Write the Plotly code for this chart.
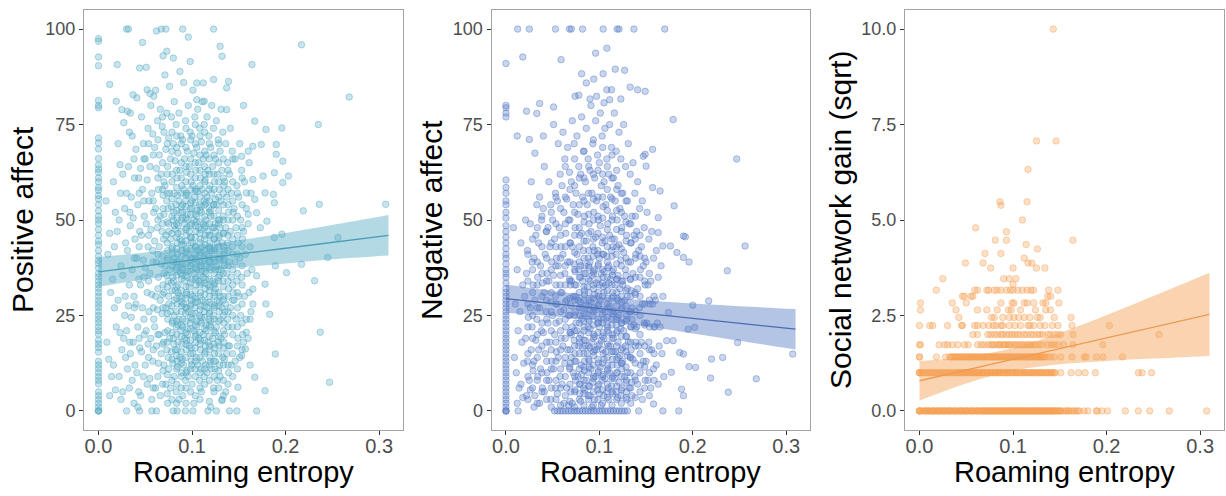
import plotly.graph_objects as go

# ---------------- tick labels ----------------
X_TICKS = [0.0, 0.1, 0.2, 0.3]
X_TICK_TEXT = ["0.0", "0.1", "0.2", "0.3"]
AFF_TICKS = [0, 25, 50, 75, 100]
AFF_TICK_TEXT = ["0", "25", "50", "75", "100"]
SOC_TICKS = [0, 2.5, 5, 7.5, 10]
SOC_TICK_TEXT = ["0.0", "2.5", "5.0", "7.5", "10.0"]

# ---------------- fitted lines + 95% bands ----------------
fit_x = [0.0, 0.05, 0.10, 0.15, 0.20, 0.25, 0.31]
pos_fit = [36.4, 38.0, 39.5, 41.1, 42.6, 44.2, 46.0]
pos_lo = [32.5, 34.5, 36.1, 37.5, 38.6, 39.7, 40.7]
pos_hi = [40.3, 41.5, 42.9, 44.7, 46.6, 48.7, 51.3]
neg_fit = [29.4, 28.1, 26.8, 25.5, 24.2, 22.9, 21.4]
neg_lo = [25.7, 24.8, 23.6, 22.1, 20.3, 18.4, 16.1]
neg_hi = [33.1, 31.4, 30.0, 28.9, 28.1, 27.4, 26.7]
soc_fit = [0.79, 1.07, 1.35, 1.63, 1.91, 2.19, 2.53]
soc_lo = [0.27, 0.72, 1.05, 1.22, 1.31, 1.37, 1.44]
soc_hi = [1.31, 1.42, 1.65, 2.04, 2.51, 3.01, 3.62]

# ---------------- Positive affect points ----------------
pos_zero_y = [97.5, 96.8, 92.7, 90.4, 81.3, 80.0, 79.4, 71.5, 70.2, 68.6, 66.1, 64.4, 63.3, 62.5, 61.0, 60.0,
              58.5, 57.8, 56.4, 55.5, 54.0, 52.4, 51.0, 50.0, 49.1, 47.5, 46.0, 44.5, 43.6, 42.0, 40.5, 39.4,
              38.6, 37.4, 36.0, 35.1, 34.0, 33.0, 32.1, 31.0, 30.0, 28.9, 28.0, 27.1, 26.0, 25.0, 24.0, 23.1,
              22.0, 21.0, 20.1, 18.5, 17.5, 16.6, 15.4, 13.0, 12.0, 11.1, 10.0, 9.0, 8.0, 7.1, 5.0, 4.0, 3.0,
              2.0, 1.0, 0.0, 0.0, 0.0]

pos_outliers = [(0.030,100),(0.032,100),(0.062,99.5),(0.067,100),(0.072,100),(0.090,100),(0.123,100),(0.096,97.9),
    (0.047,96.5),(0.073,94.2),(0.069,93),(0.080,92.4),(0.098,91.5),(0.130,95.5),(0.132,92.9),(0.164,90.7),
    (0.217,95.9),(0.268,82.2),(0.020,90.7),(0.012,85.5),(0.044,89.8),(0.052,84.1),(0.055,83.1),(0.059,82.4),
    (0.037,82.8),(0.019,81.1),(0.025,78.9),(0.034,78),(0.087,88.9),(0.105,85.9),(0.112,85.9),(0.105,81.5),
    (0.113,81.1),(0.123,86.8),(0.139,86.3),(0.137,84.6),(0.137,78.9),(0.155,80),(0.167,75.9),(0.196,74.1),
    (0.235,75),(0.179,73.7),(0.174,69.8),(0.190,69.8),(0.165,69.3),(0.160,68),(0.153,66.7),(0.190,67.2),
    (0.197,65.4),(0.188,62.4),(0.203,61.5),(0.176,61.5),(0.165,60.6),(0.197,59.8),(0.178,57.1),(0.187,56.7),
    (0.158,57.1),(0.167,55.4),(0.188,54.5),(0.236,54.1),(0.307,54.1),(0.219,52.4),(0.169,51.9),(0.160,51.5),
    (0.180,49.7),(0.173,48),(0.188,45.4),(0.196,46.3),(0.256,45.4),(0.245,40.2),(0.217,38.4),(0.189,38),
    (0.201,36.2),(0.231,34.1),(0.178,33.2),(0.169,35.4),(0.165,31.9),(0.179,28),(0.165,28),(0.183,25.3),
    (0.162,24),(0.237,20.6),(0.158,20.6),(0.189,14.9),(0.178,5.3),(0.167,8.8),(0.247,7.5),(0.169,0),
    (0.148,0),(0.144,3.1),(0.149,6.2),(0.140,0),(0.132,2.7),(0.126,0),(0.117,0),(0.101,0),(0.093,0),
    (0.084,0),(0.080,0),(0.057,0),(0.062,0),(0.044,0),(0.157,16.2),(0.153,14.5)]

pos_core = [
    (0.008,55),(0.012,46.5),(0.010,41),(0.013,31),(0.009,18),(0.011,13.5),(0.014,9),(0.012,4),
    (0.016,60),(0.018,52),(0.015,34.5),(0.017,27),(0.019,22),(0.016,12),(0.018,5.5),(0.017,43),
    (0.021,70),(0.023,64.5),(0.022,50),(0.020,47),(0.024,38),(0.021,29),(0.023,20.5),(0.025,16),(0.022,9),(0.024,3),
    (0.027,75.5),(0.026,62),(0.028,53),(0.029,44),(0.026,35.5),(0.028,25),(0.027,19),(0.029,14),(0.026,5),(0.030,0),
    (0.031,78.5),(0.033,73),(0.032,64),(0.030,57),(0.034,48.5),(0.031,42),(0.033,33),(0.032,27.5),(0.030,21),(0.034,15),(0.031,11),(0.033,6),
    (0.036,72),(0.038,66),(0.035,56),(0.037,50.5),(0.039,45),(0.036,37),(0.038,30),(0.035,24.5),(0.037,18),(0.039,12),(0.036,8),(0.038,2),
    (0.041,82),(0.040,68.5),(0.043,61),(0.042,54),(0.044,47),(0.041,40),(0.043,34.5),(0.040,28),(0.042,22),(0.044,16.5),(0.041,10),(0.043,5),(0.042,1),
    (0.046,77),(0.048,70),(0.045,63.5),(0.047,58),(0.049,51),(0.046,46),(0.048,39.5),(0.045,33),(0.047,27),(0.049,20),(0.046,15.5),(0.048,9),(0.045,4),
    (0.051,90),(0.053,74),(0.050,66),(0.052,60.5),(0.054,55),(0.051,49),(0.053,43),(0.050,37.5),(0.052,31),(0.054,26),(0.051,21),(0.053,17.5),(0.050,12),(0.052,7),
    (0.056,80),(0.058,72.5),(0.055,64),(0.057,57),(0.059,52),(0.056,47.5),(0.058,42),(0.055,36),(0.057,30.5),(0.059,24),(0.056,19),(0.058,13),(0.055,8.5),(0.057,3),
    (0.061,84),(0.063,76),(0.060,69),(0.062,63.5),(0.064,58),(0.061,53),(0.063,48),(0.060,44.5),(0.062,39),(0.064,35),(0.061,30),(0.063,26.5),(0.060,22),(0.062,17),(0.064,12.5),(0.061,6),
    (0.066,79),(0.068,74.5),(0.065,67),(0.067,62),(0.069,56.5),(0.066,51),(0.068,47),(0.065,43),(0.067,38.5),(0.069,33),(0.066,29),(0.068,25.5),(0.065,20),(0.067,15),(0.069,10.5),(0.066,4),
    (0.071,88),(0.073,78),(0.070,73),(0.072,68.5),(0.074,64),(0.071,59),(0.073,55),(0.070,51.5),(0.072,46),(0.074,42),(0.071,38),(0.073,35.5),(0.070,31),(0.072,27),(0.074,24),(0.071,20.5),(0.073,16),(0.070,12),(0.072,7),(0.074,2),
    (0.076,85),(0.078,77),(0.075,71.5),(0.077,66),(0.079,62),(0.076,57),(0.078,53.5),(0.075,49),(0.077,45),(0.079,41),(0.076,37),(0.078,33.5),(0.075,30),(0.077,26),(0.079,23),(0.076,19),(0.078,15.5),(0.075,11),(0.077,6),
    (0.081,81),(0.083,75),(0.080,70),(0.082,65.5),(0.084,61),(0.081,57),(0.083,54),(0.080,50),(0.082,47.5),(0.084,44),(0.081,40),(0.083,37),(0.080,34),(0.082,31.5),(0.084,28),(0.081,25),(0.083,22),(0.080,19),(0.082,16),(0.084,13),(0.081,9),(0.083,5),
    (0.086,78),(0.088,72),(0.085,67.5),(0.087,63),(0.089,59),(0.086,55),(0.088,52),(0.085,48.5),(0.087,45),(0.089,42),(0.086,39),(0.088,36),(0.085,33),(0.087,30),(0.089,27.5),(0.086,24),(0.088,21),(0.085,18),(0.087,14),(0.089,10),(0.086,3),
    (0.091,86),(0.093,76),(0.090,71),(0.092,66),(0.094,62.5),(0.091,58),(0.093,55),(0.090,52),(0.092,49),(0.094,46),(0.091,43.5),(0.093,40),(0.090,37),(0.092,34),(0.094,31),(0.091,28),(0.093,25.5),(0.090,22),(0.092,19),(0.094,16),(0.091,12),(0.093,8),(0.090,4),
    (0.096,80),(0.098,73),(0.095,68),(0.097,64),(0.099,60),(0.096,56.5),(0.098,53),(0.095,50),(0.097,47),(0.099,44),(0.096,41),(0.098,38),(0.095,35),(0.097,32.5),(0.099,29),(0.096,26),(0.098,23),(0.095,20),(0.097,17),(0.099,13),(0.096,9),
    (0.101,84),(0.103,77),(0.100,72),(0.102,67.5),(0.104,63),(0.101,59),(0.103,56),(0.100,53),(0.102,50),(0.104,47),(0.101,44),(0.103,41),(0.100,38.5),(0.102,36),(0.104,33),(0.101,30),(0.103,27),(0.100,24),(0.102,21),(0.104,18),(0.101,15),(0.103,11),(0.100,7),(0.102,2),
    (0.106,79),(0.108,74),(0.105,69),(0.107,65),(0.109,61),(0.106,57.5),(0.108,54),(0.105,51),(0.107,48),(0.109,45),(0.106,42),(0.108,39),(0.105,37),(0.107,34),(0.109,31),(0.106,28.5),(0.108,25),(0.105,22),(0.107,19),(0.109,16),(0.106,12),(0.108,8),
    (0.111,81),(0.113,75),(0.110,70.5),(0.112,66),(0.114,62),(0.111,58),(0.113,55),(0.110,52),(0.112,49),(0.114,46),(0.111,43),(0.113,40),(0.110,38),(0.112,35),(0.114,32),(0.111,29),(0.113,26),(0.110,23),(0.112,20),(0.114,17),(0.111,13),(0.113,9),(0.110,5),
    (0.116,77),(0.118,72),(0.115,67),(0.117,63),(0.119,59),(0.116,56),(0.118,53),(0.115,50),(0.117,47),(0.119,44),(0.116,41),(0.118,39),(0.115,36),(0.117,33),(0.119,30),(0.116,27),(0.118,24),(0.115,21),(0.117,18),(0.119,14),(0.116,10),
    (0.121,80),(0.123,74),(0.120,69),(0.122,64),(0.124,60),(0.121,57),(0.123,54),(0.120,51),(0.122,48),(0.124,45),(0.121,42),(0.123,40),(0.120,37),(0.122,34),(0.124,31),(0.121,28),(0.123,25),(0.120,22),(0.122,19),(0.124,15),(0.121,11),(0.123,6),(0.120,1),
    (0.126,76),(0.128,71),(0.125,66),(0.127,62),(0.129,58),(0.126,54),(0.128,50),(0.125,47),(0.127,44),(0.129,41),(0.126,38),(0.128,35),(0.125,32),(0.127,29),(0.129,26),(0.126,22),(0.128,18),(0.125,13),(0.127,8),
    (0.131,79),(0.133,73),(0.130,68),(0.132,63),(0.134,59),(0.131,55),(0.133,51),(0.130,48),(0.132,44),(0.134,41),(0.131,37),(0.133,34),(0.130,30),(0.132,27),(0.134,23),(0.131,19),(0.133,14),(0.130,9),(0.132,3),
    (0.136,70),(0.138,65),(0.135,60),(0.137,56),(0.139,52),(0.136,48),(0.138,44),(0.135,40),(0.137,36),(0.139,32),(0.136,28),(0.138,24),(0.135,20),(0.137,15),(0.139,10),(0.136,5),
    (0.141,74),(0.143,68),(0.140,62),(0.142,57),(0.144,52),(0.141,47),(0.143,43),(0.140,39),(0.142,35),(0.144,31),(0.141,27),(0.143,22),(0.140,17),(0.142,12),
    (0.146,66),(0.148,59),(0.145,53),(0.147,48),(0.149,44),(0.146,39),(0.148,34),(0.145,29),(0.147,24),(0.149,19),(0.146,13),
    (0.151,70),(0.153,63),(0.150,56),(0.152,50),(0.154,45),(0.151,40),(0.153,35),(0.150,30),(0.152,25),(0.154,20),(0.151,14),
    (0.156,60),(0.158,53),(0.155,47),(0.157,41),(0.159,36),(0.156,30),(0.158,24),(0.155,18),
    (0.161,65),(0.163,57),(0.160,49),(0.162,43),(0.164,37),(0.161,31),(0.163,26),(0.160,19),(0.162,12)]

pos_dense = [
    (0.0695,18),(0.069,27),(0.070,36),(0.0695,45),(0.069,53),(0.070,60),
    (0.0745,14),(0.074,21),(0.075,28),(0.0745,34),(0.074,40),(0.075,47),(0.0745,53),
    (0.0795,12.5),(0.0805,17.5),(0.079,23.5),(0.081,29),(0.0795,35),(0.080,39),(0.079,43),(0.081,48.5),(0.0805,52),
    (0.0845,11.5),(0.084,16),(0.085,22.5),(0.0835,26),(0.085,31),(0.084,37.5),(0.0845,41),(0.085,46.5),(0.084,50.5),(0.0845,56.5),
    (0.0895,13.5),(0.089,17.5),(0.090,24),(0.089,29.5),(0.0895,35.5),(0.090,38.5),(0.089,44.5),(0.0895,50.5),(0.090,54),
    (0.0945,10.5),(0.094,18.5),(0.095,21.5),(0.094,27),(0.0945,30.5),(0.095,36.5),(0.094,42.5),(0.0945,48),(0.095,51.5),(0.094,57),
    (0.0995,12),(0.099,16.5),(0.100,25.5),(0.099,28),(0.0995,34.5),(0.100,40),(0.099,45.5),(0.0995,49),(0.100,55),
    (0.1045,14),(0.104,20),(0.105,23.5),(0.104,29.5),(0.1045,35),(0.105,39.5),(0.104,43),(0.1045,49.5),(0.105,52.5),(0.104,58),
    (0.1095,11),(0.109,18.5),(0.110,24.5),(0.109,27.5),(0.1095,33.5),(0.110,36.5),(0.109,41.5),(0.1095,47.5),(0.110,53.5),
    (0.1145,12),(0.114,15.5),(0.115,22.5),(0.114,28.5),(0.1145,34.5),(0.115,38),(0.114,43.5),(0.1145,48.5),(0.115,54.5),(0.114,60.5),
    (0.1195,13),(0.119,17),(0.120,23.5),(0.119,26),(0.1195,32.5),(0.120,39),(0.119,42.5),(0.1195,46),(0.120,52.5),
    (0.1245,11),(0.124,16.5),(0.125,20.5),(0.124,27.5),(0.1245,33.5),(0.125,37),(0.124,42.5),(0.1245,49),(0.125,55.5),
    (0.1295,12),(0.129,17),(0.130,24),(0.129,28.5),(0.1295,35.5),(0.130,39.5),(0.129,45.5),(0.1295,50),
    (0.1345,13.5),(0.134,18),(0.135,26),(0.134,30),(0.1345,38),(0.135,42),(0.134,46.5)]

# third layer of the dense positive-affect cloud: one x per column, y values per column
pos_col_x = [0.0235, 0.0285, 0.0335, 0.0385, 0.0435, 0.0485, 0.0535, 0.0585, 0.0635, 0.0685, 0.0735, 0.0785,
             0.0835, 0.0885, 0.0935, 0.0985, 0.1035, 0.1085, 0.1135, 0.1185, 0.1235, 0.1285, 0.1335, 0.1385,
             0.1435, 0.1485, 0.1535]
pos_col_y = [
    [57], [30], [52, 18], [61, 40, 27], [57, 43, 19], [66, 55, 35, 24], [70, 46, 34, 14], [67, 55, 39, 27, 16, 6],
    [9, 20, 32, 41, 50, 61, 71],
    [7, 17.5, 30.5, 40.5, 49, 58, 65, 77],
    [4.5, 9.5, 18, 25.5, 32.5, 39.5, 44, 49.5, 57, 62, 70],
    [3, 8, 13.5, 20.5, 27.5, 31.5, 38, 42.5, 46.5, 51, 55.5, 60, 68, 73],
    [2, 7, 11, 14.5, 20, 23.5, 29.5, 32.5, 35.5, 39, 42.5, 45.5, 49, 52.5, 58.5, 63, 69, 72],
    [6, 9, 12.5, 15.5, 19.5, 22.5, 26, 28.5, 31.5, 34.5, 37.5, 40.5, 43.5, 47, 50, 53.5, 57, 61, 65, 70],
    [2, 6, 10, 14, 17.5, 20.5, 23.5, 27, 29.5, 32.5, 35.5, 38.5, 41.5, 44.5, 47.5, 50.5, 53.5, 56.5, 60, 64, 69, 74],
    [5, 11, 15, 18.5, 21.5, 24.5, 27.5, 30.5, 33.5, 36.5, 39.5, 42.5, 45.5, 48.5, 51.5, 54.5, 58, 62, 66, 71],
    [4, 9, 13, 16.5, 19.5, 22.5, 25.5, 28.5, 31.5, 34.5, 37.5, 40, 43, 45.5, 48.5, 51.5, 54.5, 57.5, 61, 65, 70, 75],
    [3, 6, 10, 14, 17.5, 20.5, 23.5, 26.5, 30, 33, 35.5, 38, 41, 44, 46.5, 49.5, 52.5, 56, 59, 63, 67, 72],
    [7, 11, 15, 18.5, 21.5, 24.5, 27.5, 30.5, 33.5, 36.5, 39.5, 42, 45, 48, 51, 54, 57, 60, 64, 68, 73],
    [2.5, 8, 12, 16, 19.5, 22.5, 25.5, 28.5, 31.5, 34.5, 37.5, 40.5, 43, 46, 49, 52, 55, 58, 62, 66, 70],
    [5, 9, 13, 17.5, 21, 24, 27, 30, 33, 36, 39, 42, 45, 48, 51, 54, 58, 62, 67],
    [6, 10.5, 15, 19.5, 23.5, 27.5, 31, 34, 37, 40, 43, 46, 49, 52.5, 56, 60, 65, 70],
    [4, 8, 12, 16.5, 21, 25, 29, 32.5, 36, 39.5, 43, 46.5, 50, 54, 57, 61, 66],
    [7, 12, 17, 22, 26, 30, 34, 38, 42, 46, 50, 54, 58, 63],
    [9, 15, 20, 25, 29, 33, 37, 41, 45, 50, 55, 60, 66],
    [11, 17, 22, 27, 31, 36, 41, 46, 51, 57],
    [16, 23, 28, 33, 38, 43, 48, 54, 61]]

# ---------------- Negative affect points ----------------
neg_zero_y = [91, 80, 79.4, 78, 77, 60.5, 58.5, 57, 55, 54, 52, 50.5, 48.5, 47, 45.5, 44, 42.5, 41, 40, 38.5,
              37, 36, 35, 33.5, 32, 31, 30, 29, 28, 27, 26, 25, 24, 23, 22, 21, 20, 19, 18, 17, 16, 15, 14, 13,
              12, 11, 10, 9, 8, 7, 6, 5, 4, 3, 2, 1, 0, 0, 0]

neg_zero_row_x = [0.013, 0.052, 0.055, 0.058, 0.061, 0.064, 0.067, 0.070, 0.073, 0.076, 0.079, 0.082, 0.085,
                  0.088, 0.091, 0.094, 0.097, 0.100, 0.103, 0.106, 0.109, 0.112, 0.115, 0.118, 0.121, 0.124,
                  0.127, 0.130, 0.142]

neg_outliers = [(0.0125,100),(0.025,100),(0.053,100),(0.068,100),(0.070,100),(0.082,100),(0.104,100),(0.119,100),
    (0.121,100),(0.137,100),(0.170,100),(0.096,93.7),(0.108,95),(0.018,92.7),(0.059,92),(0.081,88.3),(0.104,88.3),
    (0.117,89.5),(0.127,89.2),(0.094,86.9),(0.086,85.9),(0.133,84.8),(0.141,84.1),(0.149,83.7),(0.074,82.4),
    (0.078,82.7),(0.090,81.7),(0.097,82.4),(0.108,84.1),(0.113,84.1),(0.111,81.5),(0.123,81.7),(0.105,80.7),
    (0.051,79.6),(0.036,80.5),(0.022,78.5),(0.033,77.9),(0.012,72),(0.025,71.1),(0.040,72),(0.179,76.3),
    (0.247,66),(0.256,43.2),(0.237,36.7),(0.217,28.8),(0.200,27.7),(0.195,21.4),(0.202,21.9),(0.196,11.6),
    (0.203,11.4),(0.220,13.6),(0.232,14),(0.219,8.6),(0.238,4.9),(0.248,17.9),(0.268,8.4),(0.307,14.9),
    (0.190,45.8),(0.192,45.6),(0.183,41.5),(0.190,40.2),(0.196,39),(0.180,53.7),(0.163,46.7),(0.176,43.2),
    (0.168,43.2),(0.186,15.3),(0.190,14.9),(0.177,10.1),(0.188,5.7),(0.190,4),(0.185,0),(0.168,0),(0.158,1.8),
    (0.172,18.4),(0.179,18.4),(0.174,25.8),(0.157,58.5),(0.157,68.5),(0.150,64.1),(0.149,67.2),(0.147,66.7),
    (0.165,57.6),(0.163,50.6)]

neg_core = [
    (0.008,48),(0.012,37),(0.010,28),(0.013,21),(0.009,14),(0.011,10),(0.014,6),(0.012,2),
    (0.016,44),(0.018,33),(0.015,26),(0.017,18),(0.019,12.5),(0.016,7),(0.018,3.5),
    (0.021,50),(0.023,42),(0.022,36),(0.020,30),(0.024,24.5),(0.021,19),(0.023,13),(0.025,8),(0.022,4),
    (0.027,60),(0.026,49),(0.028,39),(0.029,33),(0.026,27),(0.028,22),(0.027,16),(0.029,10.5),(0.026,5.5),(0.030,1),
    (0.031,67.5),(0.033,54),(0.032,46),(0.030,40),(0.034,35),(0.031,29),(0.033,24),(0.032,18.5),(0.030,13),(0.034,9),(0.031,4),
    (0.036,56),(0.038,50),(0.035,44),(0.037,38),(0.039,33.5),(0.036,27),(0.038,21),(0.035,16),(0.037,11),(0.039,6),(0.036,2),
    (0.041,64),(0.040,53),(0.043,47),(0.042,41),(0.044,36),(0.041,31),(0.043,26),(0.040,20.5),(0.042,15),(0.044,10),(0.041,5),
    (0.046,60),(0.048,54),(0.045,48),(0.047,43),(0.049,39),(0.046,34),(0.048,28.5),(0.045,23),(0.047,18),(0.049,13),(0.046,8),(0.048,3),
    (0.051,75),(0.053,57),(0.050,50),(0.052,45),(0.054,40),(0.051,35.5),(0.053,30),(0.050,25),(0.052,20),(0.054,15.5),(0.051,11),(0.053,6),
    (0.056,70),(0.058,62),(0.055,55),(0.057,48),(0.059,43),(0.056,38),(0.058,33),(0.055,28),(0.057,23.5),(0.059,19),(0.056,14),(0.058,9),(0.055,4.5),
    (0.061,73),(0.063,66),(0.060,59),(0.062,52),(0.064,46.5),(0.061,41),(0.063,36),(0.060,31),(0.062,26.5),(0.064,22),(0.061,17),(0.063,12.5),(0.060,7),(0.062,2),
    (0.066,69),(0.068,62.5),(0.065,55.5),(0.067,50),(0.069,44),(0.066,39),(0.068,34.5),(0.065,29),(0.067,25),(0.069,20.5),(0.066,16),(0.068,11),(0.065,6),(0.067,1.5),
    (0.071,76),(0.073,70),(0.070,60),(0.072,54),(0.074,48),(0.071,43),(0.073,38.5),(0.070,34),(0.072,30),(0.074,26),(0.071,22),(0.073,18.5),(0.070,14),(0.072,10),(0.074,5.5),(0.071,2),
    (0.076,72),(0.078,64),(0.075,57),(0.077,51.5),(0.079,46),(0.076,41),(0.078,37),(0.075,33),(0.077,29),(0.079,25),(0.076,21),(0.078,17),(0.075,13),(0.077,9),(0.079,4.5),
    (0.081,77),(0.083,68),(0.080,62),(0.082,56),(0.084,51),(0.081,46.5),(0.083,42),(0.080,38),(0.082,34),(0.084,30.5),(0.081,27),(0.083,23.5),(0.080,20),(0.082,16.5),(0.084,13),(0.081,9.5),(0.083,6),(0.080,2.5),
    (0.086,74),(0.088,66),(0.085,60),(0.087,54),(0.089,49),(0.086,44.5),(0.088,40),(0.085,36),(0.087,32.5),(0.089,29),(0.086,25.5),(0.088,22),(0.085,18.5),(0.087,15),(0.089,11.5),(0.086,8),(0.088,4),
    (0.091,80),(0.093,70),(0.090,63),(0.092,57),(0.094,52),(0.091,47),(0.093,43),(0.090,39),(0.092,35.5),(0.094,32),(0.091,28.5),(0.093,25),(0.090,21.5),(0.092,18),(0.094,14.5),(0.091,11),(0.093,7.5),(0.090,4),(0.092,1),
    (0.096,76),(0.098,67),(0.095,61),(0.097,55),(0.099,50),(0.096,45.5),(0.098,41),(0.095,37),(0.097,33.5),(0.099,30),(0.096,26.5),(0.098,23),(0.095,19.5),(0.097,16),(0.099,12.5),(0.096,9),(0.098,5.5),
    (0.101,78),(0.103,72),(0.100,65),(0.102,59),(0.104,53.5),(0.101,48.5),(0.103,44),(0.100,40),(0.102,36),(0.104,32.5),(0.101,29),(0.103,25.5),(0.100,22),(0.102,18.5),(0.104,15),(0.101,11.5),(0.103,8),(0.100,4.5),(0.102,1.5),
    (0.106,74),(0.108,66),(0.105,60),(0.107,54),(0.109,49),(0.106,44.5),(0.108,40.5),(0.105,36.5),(0.107,33),(0.109,29.5),(0.106,26),(0.108,22.5),(0.105,19),(0.107,15.5),(0.109,12),(0.106,8.5),(0.108,5),
    (0.111,75),(0.113,69),(0.110,62),(0.112,56),(0.114,51),(0.111,46),(0.113,42),(0.110,38),(0.112,34.5),(0.114,31),(0.111,27.5),(0.113,24),(0.110,20.5),(0.112,17),(0.114,13.5),(0.111,10),(0.113,6.5),(0.110,3),
    (0.116,78),(0.118,68),(0.115,61),(0.117,55),(0.119,50),(0.116,45),(0.118,41),(0.115,37),(0.117,33),(0.119,29.5),(0.116,26),(0.118,22.5),(0.115,19),(0.117,15.5),(0.119,12),(0.116,8.5),(0.118,5),
    (0.121,73),(0.123,66),(0.120,59),(0.122,53),(0.124,48),(0.121,43.5),(0.123,39.5),(0.120,35.5),(0.122,32),(0.124,28.5),(0.121,25),(0.123,21.5),(0.120,18),(0.122,14.5),(0.124,11),(0.121,7.5),(0.123,4),
    (0.126,75),(0.128,64),(0.125,57),(0.127,51),(0.129,46),(0.126,41.5),(0.128,37),(0.125,33),(0.127,29),(0.129,25),(0.126,21),(0.128,17),(0.125,13),(0.127,9),(0.129,5),
    (0.131,70),(0.133,62),(0.130,55),(0.132,49),(0.134,44),(0.131,39),(0.133,34.5),(0.130,30),(0.132,26),(0.134,22),(0.131,18),(0.133,14),(0.130,10),(0.132,6),
    (0.136,65),(0.138,57),(0.135,51),(0.137,46),(0.139,41),(0.136,36),(0.138,31),(0.135,27),(0.137,22.5),(0.139,18),(0.136,13.5),(0.138,9),(0.135,4),
    (0.141,60),(0.143,53),(0.140,47),(0.142,42),(0.144,37),(0.141,32),(0.143,27),(0.140,22),(0.142,17),(0.144,12),(0.141,7),
    (0.146,55),(0.148,48),(0.145,43),(0.147,38),(0.149,33),(0.146,28),(0.148,23),(0.145,18),(0.147,13),(0.149,8),(0.146,3),
    (0.151,52),(0.153,45),(0.150,39),(0.152,33),(0.154,28),(0.151,23),(0.153,18),(0.150,13),(0.152,8),
    (0.156,47),(0.158,40),(0.155,34),(0.157,28),(0.159,22),(0.156,16),(0.158,11),(0.155,6),
    (0.161,42),(0.163,35),(0.160,29),(0.162,23),(0.164,17),(0.161,12),(0.163,7),
    (0.166,38),(0.168,30),(0.165,22),(0.167,15),(0.169,9)]

neg_dense = [
    (0.0695,5),(0.069,12.5),(0.070,20),(0.0695,27.5),(0.069,33),
    (0.0745,8),(0.074,15),(0.075,23),(0.0745,30),(0.074,36.5),
    (0.0795,7),(0.0805,12),(0.079,18),(0.081,24),(0.0795,28.5),(0.080,35),
    (0.0845,5.5),(0.084,10.5),(0.085,17),(0.0835,21),(0.085,27.5),(0.084,31.5),(0.0845,38),
    (0.0895,6.5),(0.089,13),(0.090,16.5),(0.089,23.5),(0.0895,26.5),(0.090,34),(0.089,37.5),
    (0.0945,3),(0.094,9),(0.095,16),(0.094,20),(0.0945,27),(0.095,30.5),(0.094,36),(0.0945,42),
    (0.0995,7),(0.099,10.5),(0.100,17.5),(0.099,23),(0.0995,28),(0.100,33),(0.099,38.5),
    (0.1045,4),(0.104,9.5),(0.105,13.5),(0.104,20.5),(0.1045,24),(0.105,31),(0.104,35),(0.1045,41),
    (0.1095,6),(0.109,11),(0.110,17),(0.109,22),(0.1095,27),(0.110,33.5),(0.109,37.5),
    (0.1145,4.5),(0.114,9),(0.115,15.5),(0.114,20),(0.1145,25.5),(0.115,30),(0.114,35.5),(0.1145,43),
    (0.1195,3.5),(0.119,10),(0.120,14),(0.119,21),(0.1195,24.5),(0.120,29),(0.119,34.5),
    (0.1245,6),(0.124,12.5),(0.125,16.5),(0.124,23),(0.1245,27),(0.125,34),
    (0.1295,3),(0.129,8),(0.130,14.5),(0.129,19.5),(0.1295,24),(0.130,32),
    (0.1345,7.5),(0.134,16),(0.135,24),(0.134,31.5)]

neg_col_x = [0.0235, 0.0285, 0.0335, 0.0385, 0.0435, 0.0485, 0.0535, 0.0585, 0.0635, 0.0685, 0.0735, 0.0785,
             0.0835, 0.0885, 0.0935, 0.0985, 0.1035, 0.1085, 0.1135, 0.1185, 0.1235, 0.1285, 0.1335, 0.1385,
             0.1435, 0.1485, 0.1535, 0.1585]
neg_col_y = [
    [3, 9, 15, 22, 28, 34, 41],
    [6, 12, 19, 25, 31, 37, 45],
    [2, 8, 14, 20, 27, 33, 39, 48],
    [5, 10, 17, 23, 30, 36, 43, 51],
    [3, 8, 13, 18, 24, 29, 34, 40, 47],
    [1, 6, 11, 16, 21, 26, 31, 37, 44, 52],
    [3, 8, 13, 18, 23, 28, 33, 38, 43, 49, 56],
    [1.5, 6, 11, 16, 21, 26, 31, 35.5, 40, 46, 53],
    [4, 9, 14, 19, 24, 28.5, 33, 38, 43, 49, 56, 64],
    [2.5, 7, 11.5, 16, 20.5, 25, 29.5, 34, 39, 44, 50, 58],
    [1, 5, 9, 13, 17, 21, 25, 29, 33, 37, 41.5, 46, 52, 59, 66],
    [3, 7, 11, 15, 19, 23, 27, 31, 35, 39, 43, 48, 54, 61],
    [1.5, 4.5, 8, 11.5, 15, 18.5, 22, 25.5, 29, 32.5, 36, 40, 44.5, 49.5, 55, 61, 68],
    [3, 6.5, 10, 13.5, 17, 20.5, 24, 27.5, 31, 34.5, 38, 42, 46.5, 51.5, 57, 64],
    [1.5, 5, 8.5, 12, 15.5, 19, 22.5, 26, 29.5, 33, 36.5, 40.5, 45, 50, 55.5, 62, 71],
    [3, 6.5, 10, 13.5, 17, 20.5, 24, 27.5, 31, 34.5, 38, 42, 46.5, 51, 56, 63],
    [2, 5.5, 9, 12.5, 16, 19.5, 23, 26.5, 30, 33.5, 37, 41, 45.5, 50.5, 56, 62, 69],
    [3.5, 7, 10.5, 14, 17.5, 21, 24.5, 28, 31.5, 35, 39, 43, 47.5, 52.5, 58, 64],
    [1.5, 5, 8.5, 12, 15.5, 19, 22.5, 26, 29.5, 33, 36.5, 40.5, 45, 50, 55.5, 61, 67],
    [3, 6.5, 10, 13.5, 17, 20.5, 24, 27.5, 31, 34.5, 38.5, 43, 47.5, 52.5, 58, 63],
    [2, 5.5, 9, 12.5, 16, 19.5, 23, 26.5, 30, 34, 38, 42.5, 47, 52, 57],
    [3.5, 7.5, 11.5, 15.5, 19.5, 23.5, 27.5, 31.5, 35.5, 40, 44.5, 49.5, 55],
    [2, 6, 10, 14, 18, 22, 26, 30, 34.5, 39, 44, 49],
    [3.5, 8, 12.5, 17, 21.5, 26, 30.5, 35, 40, 45, 51],
    [5, 10, 15, 20, 25, 30, 35, 40.5, 46],
    [6, 11.5, 17, 22.5, 28, 34, 40],
    [4, 10, 16, 22, 29, 36],
    [8, 15, 22, 30]]

# ---------------- Social network gain (sqrt): y levels and x positions ----------------
soc_levels = [0.0, 1.0, 1.414, 1.732, 2.0, 2.236, 2.449, 2.646, 2.828, 3.0, 3.162, 3.317, 3.464,
              3.742, 3.873, 4.0, 4.123, 4.243, 4.359, 4.472, 4.690, 4.796, 5.0, 5.385, 5.477, 6.325, 7.071, 10.0]
soc_x_by_level = [
    [0.000, 0.000, 0.000, 0.003, 0.005, 0.006, 0.008, 0.0095, 0.010, 0.012, 0.0135, 0.014, 0.016, 0.018, 0.019,
     0.020, 0.022, 0.024, 0.025, 0.026, 0.028, 0.030, 0.031, 0.032, 0.034, 0.036, 0.037, 0.038, 0.040, 0.042,
     0.043, 0.044, 0.046, 0.048, 0.049, 0.050, 0.052, 0.054, 0.055, 0.056, 0.058, 0.060, 0.061, 0.062, 0.064,
     0.066, 0.067, 0.068, 0.070, 0.071, 0.072, 0.074, 0.075, 0.076, 0.078, 0.079, 0.080, 0.082, 0.083, 0.084,
     0.086, 0.087, 0.088, 0.090, 0.091, 0.092, 0.094, 0.095, 0.096, 0.098, 0.099, 0.100, 0.102, 0.103, 0.104,
     0.106, 0.107, 0.108, 0.110, 0.111, 0.112, 0.114, 0.115, 0.116, 0.118, 0.119, 0.120, 0.122, 0.123, 0.124,
     0.126, 0.127, 0.128, 0.130, 0.131, 0.132, 0.134, 0.135, 0.136, 0.138, 0.139, 0.140, 0.142, 0.143, 0.144,
     0.146, 0.148, 0.149, 0.150, 0.153, 0.156, 0.157, 0.160, 0.163, 0.165, 0.167, 0.171, 0.176, 0.180, 0.190,
     0.195, 0.201, 0.220, 0.234, 0.246, 0.267, 0.307,
     0.001, 0.007, 0.015, 0.021, 0.027, 0.033, 0.039, 0.045, 0.051, 0.057, 0.063, 0.069, 0.073, 0.077, 0.081,
     0.085, 0.089, 0.093, 0.097, 0.101, 0.105, 0.109, 0.113, 0.117, 0.121, 0.125, 0.129, 0.133, 0.137, 0.141,
     0.145, 0.151, 0.159, 0.169, 0.189],
    [0.000, 0.000, 0.000, 0.004, 0.008, 0.012, 0.016, 0.020, 0.024, 0.028, 0.032, 0.036, 0.040, 0.043, 0.046,
     0.049, 0.050, 0.052, 0.055, 0.058, 0.060, 0.061, 0.064, 0.067, 0.068, 0.070, 0.073, 0.076, 0.078, 0.079,
     0.082, 0.085, 0.086, 0.088, 0.091, 0.094, 0.095, 0.097, 0.100, 0.103, 0.104, 0.106, 0.109, 0.112, 0.113,
     0.115, 0.118, 0.121, 0.122, 0.124, 0.127, 0.130, 0.131, 0.133, 0.136, 0.139, 0.142, 0.145, 0.151, 0.162,
     0.170, 0.177, 0.188, 0.234, 0.238, 0.248,
     0.002, 0.006, 0.010, 0.014, 0.018, 0.022, 0.026, 0.030, 0.034, 0.038, 0.042, 0.045, 0.048, 0.054, 0.057,
     0.063, 0.066, 0.072, 0.075, 0.081, 0.084, 0.090, 0.093, 0.099, 0.102, 0.108, 0.111, 0.117, 0.120, 0.126,
     0.129, 0.135, 0.138, 0.141, 0.144],
    [0.000, 0.000, 0.018, 0.028, 0.032, 0.035, 0.038, 0.041, 0.044, 0.047, 0.050, 0.053, 0.056, 0.059, 0.062,
     0.065, 0.068, 0.071, 0.074, 0.077, 0.080, 0.083, 0.086, 0.089, 0.092, 0.095, 0.098, 0.101, 0.104, 0.107,
     0.110, 0.113, 0.116, 0.119, 0.122, 0.125, 0.128, 0.131, 0.134, 0.137, 0.140, 0.144, 0.151, 0.163, 0.176,
     0.178, 0.189, 0.196, 0.217,
     0.0335, 0.0365, 0.0395, 0.0425, 0.0455, 0.0485, 0.0515, 0.0545, 0.0575, 0.0605, 0.0635, 0.0665, 0.0695,
     0.0725, 0.0755, 0.0785, 0.0815, 0.0845, 0.0875, 0.0905, 0.0935, 0.0965, 0.0995, 0.1025, 0.1055, 0.1085,
     0.1115, 0.1145, 0.1175, 0.1205, 0.1235, 0.1265, 0.1295, 0.1325],
    [0.000, 0.001, 0.021, 0.027, 0.030, 0.035, 0.041, 0.048, 0.052, 0.062, 0.066, 0.069, 0.073, 0.076, 0.080,
     0.083, 0.086, 0.089, 0.092, 0.095, 0.098, 0.101, 0.105, 0.108, 0.112, 0.115, 0.119, 0.122, 0.124, 0.128,
     0.131, 0.137, 0.141, 0.144, 0.148, 0.154, 0.164, 0.196, 0.078, 0.085, 0.091, 0.096, 0.103, 0.110, 0.117],
    [0.057, 0.062, 0.073, 0.076, 0.080, 0.083, 0.087, 0.089, 0.093, 0.096, 0.099, 0.102, 0.105, 0.108, 0.112,
     0.115, 0.119, 0.122, 0.126, 0.129, 0.132, 0.137, 0.140, 0.144, 0.148, 0.151, 0.164, 0.256],
    [0.000, 0.011, 0.014, 0.030, 0.045, 0.046, 0.059, 0.062, 0.068, 0.074, 0.079, 0.082, 0.087, 0.089, 0.096,
     0.102, 0.108, 0.116, 0.118, 0.122, 0.129, 0.134, 0.142, 0.148, 0.163, 0.203],
    [0.042, 0.077, 0.080, 0.089, 0.096, 0.101, 0.106, 0.112, 0.118, 0.126, 0.129, 0.144, 0.162],
    [0.001, 0.039, 0.062, 0.072, 0.083, 0.095, 0.098, 0.108, 0.124, 0.135, 0.140],
    [0.001, 0.035, 0.050, 0.087, 0.099, 0.101, 0.112, 0.115, 0.122, 0.132, 0.135, 0.149],
    [0.046, 0.048, 0.055, 0.057, 0.137, 0.140],
    [0.018, 0.059, 0.062, 0.072, 0.074, 0.080, 0.083, 0.087, 0.093, 0.097, 0.100, 0.105, 0.110, 0.115, 0.119,
     0.122, 0.138, 0.148],
    [0.100],
    [0.025, 0.090, 0.096, 0.103],
    [0.076, 0.100, 0.125, 0.134],
    [0.049, 0.068, 0.116, 0.120],
    [0.112],
    [0.070, 0.087],
    [0.126],
    [0.114],
    [0.081, 0.093, 0.164],
    [0.093],
    [0.060],
    [0.110],
    [0.087],
    [0.086, 0.115],
    [0.116],
    [0.125, 0.146],
    [0.143],
]

# ---------------- assemble ----------------
def unzip(pairs):
    return [p[0] for p in pairs], [p[1] for p in pairs]


def columns(col_x, col_y):
    xs, ys = [], []
    for cx, cys in zip(col_x, col_y):
        xs += [cx] * len(cys)
        ys += list(cys)
    return xs, ys


px1, py1 = unzip(pos_outliers + pos_core + pos_dense)
px2, py2 = columns(pos_col_x, pos_col_y)
pos_x = [0.0] * len(pos_zero_y) + px1 + px2
pos_y = list(pos_zero_y) + py1 + py2

nx1, ny1 = unzip(neg_outliers + neg_core + neg_dense)
nx2, ny2 = columns(neg_col_x, neg_col_y)
neg_x = [0.0] * len(neg_zero_y) + list(neg_zero_row_x) + nx1 + nx2
neg_y = list(neg_zero_y) + [0.0] * len(neg_zero_row_x) + ny1 + ny2

soc_x, soc_y = [], []
for lvl, xs in zip(soc_levels, soc_x_by_level):
    soc_x += xs
    soc_y += [lvl] * len(xs)

W, H = 1226, 496
FONT = "Liberation Sans, Arial, sans-serif"

panels = [
    dict(x=pos_x, y=pos_y, fit=pos_fit, lo=pos_lo, hi=pos_hi, rgb=(86, 170, 197), line="#4a9db6",
         dom=(84, 403), yr=[-5, 105], yt=AFF_TICKS, ytt=AFF_TICK_TEXT, title="Positive affect", tx=22,
         a=(0.32, 0.45)),
    dict(x=neg_x, y=neg_y, fit=neg_fit, lo=neg_lo, hi=neg_hi, rgb=(88, 124, 198), line="#4a6cb3",
         dom=(491.5, 810), yr=[-5, 105], yt=AFF_TICKS, ytt=AFF_TICK_TEXT, title="Negative affect", tx=431,
         a=(0.32, 0.45)),
    dict(x=soc_x, y=soc_y, fit=soc_fit, lo=soc_lo, hi=soc_hi, rgb=(245, 160, 82), line="#ee9a4f",
         dom=(905, 1224), yr=[-0.5, 10.5], yt=SOC_TICKS, ytt=SOC_TICK_TEXT, title="Social network gain (sqrt)",
         tx=840, a=(0.32, 0.42)),
]

fig = go.Figure()
layout = dict(width=W, height=H, margin=dict(l=0, r=0, t=0, b=0), paper_bgcolor="white",
              plot_bgcolor="white", showlegend=False, font=dict(family=FONT), annotations=[])
ydom = [1 - 430 / H, 1 - 10 / H]

for i, p in enumerate(panels):
    k = "" if i == 0 else str(i + 1)
    xa, ya = "x" + k, "y" + k
    r, g, b = p["rgb"]
    fa, la = p["a"]
    fig.add_trace(go.Scatter(x=p["x"], y=p["y"], mode="markers", xaxis=xa, yaxis=ya, hoverinfo="skip",
                             marker=dict(size=6.5, color=f"rgba({r},{g},{b},{fa})",
                                         line=dict(width=1, color=f"rgba({r},{g},{b},{la})"))))
    fig.add_trace(go.Scatter(x=fit_x, y=p["lo"], mode="lines", xaxis=xa, yaxis=ya, hoverinfo="skip",
                             line=dict(width=0, shape="spline", color=f"rgba({r},{g},{b},0)")))
    fig.add_trace(go.Scatter(x=fit_x, y=p["hi"], mode="lines", xaxis=xa, yaxis=ya, hoverinfo="skip",
                             fill="tonexty", fillcolor=f"rgba({r},{g},{b},0.45)",
                             line=dict(width=0, shape="spline", color=f"rgba({r},{g},{b},0)")))
    fig.add_trace(go.Scatter(x=fit_x, y=p["fit"], mode="lines", xaxis=xa, yaxis=ya, hoverinfo="skip",
                             line=dict(width=1.3, color=p["line"])))
    axis_common = dict(showgrid=False, zeroline=False, showline=True, mirror=True, linecolor="#a3a3a3",
                       linewidth=1, ticks="outside", ticklen=4, tickwidth=1, tickcolor="#333333")
    layout["xaxis" + k] = dict(axis_common, domain=[p["dom"][0] / W, p["dom"][1] / W], range=[-0.0155, 0.3255],
                               tickvals=X_TICKS, ticktext=X_TICK_TEXT, anchor=ya, ticklabelstandoff=-6,
                               tickfont=dict(size=20, color="#4d4d4d", family=FONT))
    layout["yaxis" + k] = dict(axis_common, domain=ydom, range=p["yr"], tickvals=p["yt"], ticktext=p["ytt"],
                               anchor=xa, tickfont=dict(size=18, color="#4d4d4d", family=FONT))
    layout["annotations"].append(dict(text=p["title"], xref="paper", yref="paper", x=p["tx"] / W,
                                      y=1 - 220 / H, textangle=-90, showarrow=False, xanchor="center",
                                      yanchor="middle", font=dict(size=30, color="black", family=FONT)))
    layout["annotations"].append(dict(text="Roaming entropy", xref="paper", yref="paper",
                                      x=(p["dom"][0] + p["dom"][1]) / 2 / W, y=1 - 472 / H, showarrow=False,
                                      xanchor="center", yanchor="middle",
                                      font=dict(size=29, color="black", family=FONT)))

fig.update_layout(**layout)
fig.write_html("out.html")
